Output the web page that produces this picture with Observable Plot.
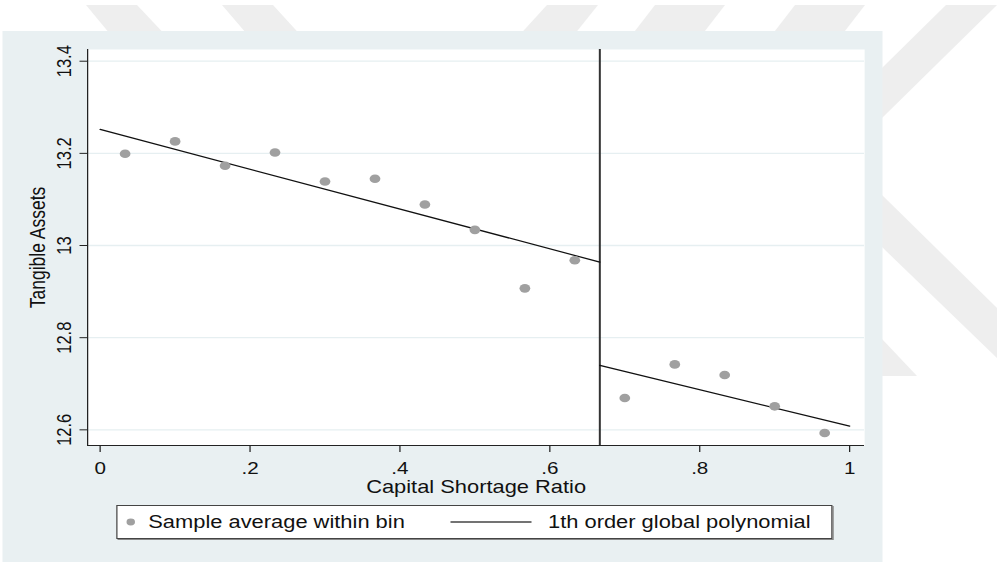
<!DOCTYPE html>
<html><head><meta charset="utf-8">
<script src="https://cdn.jsdelivr.net/npm/d3@7"></script>
<script src="https://cdn.jsdelivr.net/npm/@observablehq/plot@0.6"></script>
<style>
html,body{margin:0;padding:0;background:#fff;overflow:hidden;width:997px;height:562px;}
#wm{position:absolute;left:0;top:0;}
#stage{position:absolute;left:0;top:0;width:798px;height:562px;transform:scaleX(1.25);transform-origin:0 0;font-family:"Liberation Sans",Arial,sans-serif;color:#111;}
#panel{position:absolute;left:1.6px;top:31px;width:704px;height:531px;background:#e9f0f2;}
#chart{position:absolute;left:0;top:0;}
#legend{position:absolute;left:92.8px;top:505px;width:573.6px;height:34px;background:#fff;border:1px solid #444;box-shadow:1px 1px 0 #888;box-sizing:border-box;font-size:17.5px;}
#legend .it{position:absolute;top:0;height:32px;line-height:32px;white-space:nowrap;}
#legend svg{position:absolute;left:0;top:0;}
</style></head>
<body>
<svg id="wm" width="997" height="562">
  <g fill="#eeeeee">
    <polygon points="86,5 137,5 170,40 115,40"/>
    <polygon points="222,5 273,5 305,40 252,40"/>
    <polygon points="547,5 598,5 570,40 515,40"/>
    <polygon points="655,5 725,5 698,40 628,40"/>
    <polygon points="795,5 865,5 838,40 768,40"/>
    <polygon points="946,5 997,5 882,118 882,68"/>
    <polygon points="882,195 997,308 997,358 882,247"/>
    <polygon points="882,339 917,376 882,376"/>
  </g>
</svg>
<div id="stage">
  <div id="panel"></div>
  <div id="chart"></div>
  <div id="legend">
    <svg width="572" height="32">
      <circle cx="10.6" cy="16" r="3.4" fill="#a0a0a0"></circle>
      <line x1="266.4" x2="331.2" y1="16" y2="16" stroke="#444" stroke-width="1.6"></line>
    </svg>
    <span class="it" style="left:24.8px">Sample average within bin</span>
    <span class="it" style="left:344.6px">1th order global polynomial</span>
  </div>
</div>
<script>
// Bin centers and sample averages
const binCenters = [0.0333, 0.1, 0.1667, 0.2333, 0.3, 0.3667, 0.4333, 0.5, 0.5667, 0.6333,
                    0.7, 0.7667, 0.8333, 0.9, 0.9667];
const binMeans = [13.199, 13.226, 13.173, 13.202, 13.139, 13.145, 13.089, 13.034, 12.907, 12.968,
                  12.669, 12.742, 12.719, 12.651, 12.593];
const cutoff = 0.6667;
// Fitted 1st order polynomial endpoints on each side of the cutoff
const fitLeftX = [0, 0.6667];
const fitLeftY = [13.252, 12.964];
const fitRightX = [0.6667, 1];
const fitRightY = [12.740, 12.608];
// Axes
const xTicks = [0, 0.2, 0.4, 0.6, 0.8, 1];
const xTickLabels = ["0", ".2", ".4", ".6", ".8", "1"];
const yTicks = [12.6, 12.8, 13, 13.2, 13.4];
const yTickLabels = ["12.6", "12.8", "13", "13.2", "13.4"];
const xDomain = [-0.0167, 1.02];
const yDomain = [12.566, 13.4254];
const xTitle = "Capital Shortage Ratio";
const yTitle = "Tangible Assets";

const points = binCenters.map((x, i) => ({x, y: binMeans[i]}));
const fit = [
  ...fitLeftX.map((x, i) => ({x, y: fitLeftY[i], side: "left"})),
  ...fitRightX.map((x, i) => ({x, y: fitRightY[i], side: "right"}))
];
const xLab = new Map(xTicks.map((t, i) => [t, xTickLabels[i]]));

const chart = Plot.plot({
  width: 798,
  height: 562,
  marginLeft: 69.6,
  marginRight: 106.8,
  marginTop: 49,
  marginBottom: 117,
  style: {background: "transparent", fontFamily: "Liberation Sans, Arial, sans-serif", fontSize: "16.5px", color: "#111"},
  x: {domain: xDomain},
  y: {domain: yDomain},
  marks: [
    Plot.frame({fill: "white", stroke: "none"}),
    Plot.ruleY(yTicks, {stroke: "#e6eff1", strokeWidth: 1.3}),
    Plot.ruleX([cutoff], {stroke: "#333", strokeWidth: 1.6}),
    Plot.line(fit, {x: "x", y: "y", z: "side", stroke: "#111", strokeWidth: 1.2}),
    Plot.dot(points, {x: "x", y: "y", r: 4.3, fill: "#a0a0a0", stroke: "none"}),
    Plot.ruleX([xDomain[0]], {stroke: "#222", strokeWidth: 1}),
    Plot.ruleY([yDomain[0]], {stroke: "#222", strokeWidth: 1}),
    Plot.axisX({ticks: xTicks, tickSize: 7, tickPadding: 9.5, tickFormat: d => xLab.get(d), fontSize: 16.5, label: null, stroke: "#222"}),
    Plot.axisY({ticks: yTicks, tickSize: 6, tickFormat: () => "", label: null, stroke: "#222"}),
    Plot.text(yTicks, {y: d => d, text: (d, i) => yTickLabels[i], frameAnchor: "left", rotate: -90, dx: -13, lineAnchor: "bottom", textAnchor: "middle", fontSize: 16.5, fill: "#111"}),
    Plot.text([xTitle], {text: d => d, frameAnchor: "bottom", dy: 47, lineAnchor: "bottom", textAnchor: "middle", fontSize: 17.5, fill: "#111"}),
    Plot.text([yTitle], {text: d => d, frameAnchor: "left", dx: -40, rotate: -90, lineAnchor: "middle", textAnchor: "middle", fontSize: 17.5, fill: "#111"})
  ]
});
document.getElementById("chart").appendChild(chart);
</script>
</body></html>
